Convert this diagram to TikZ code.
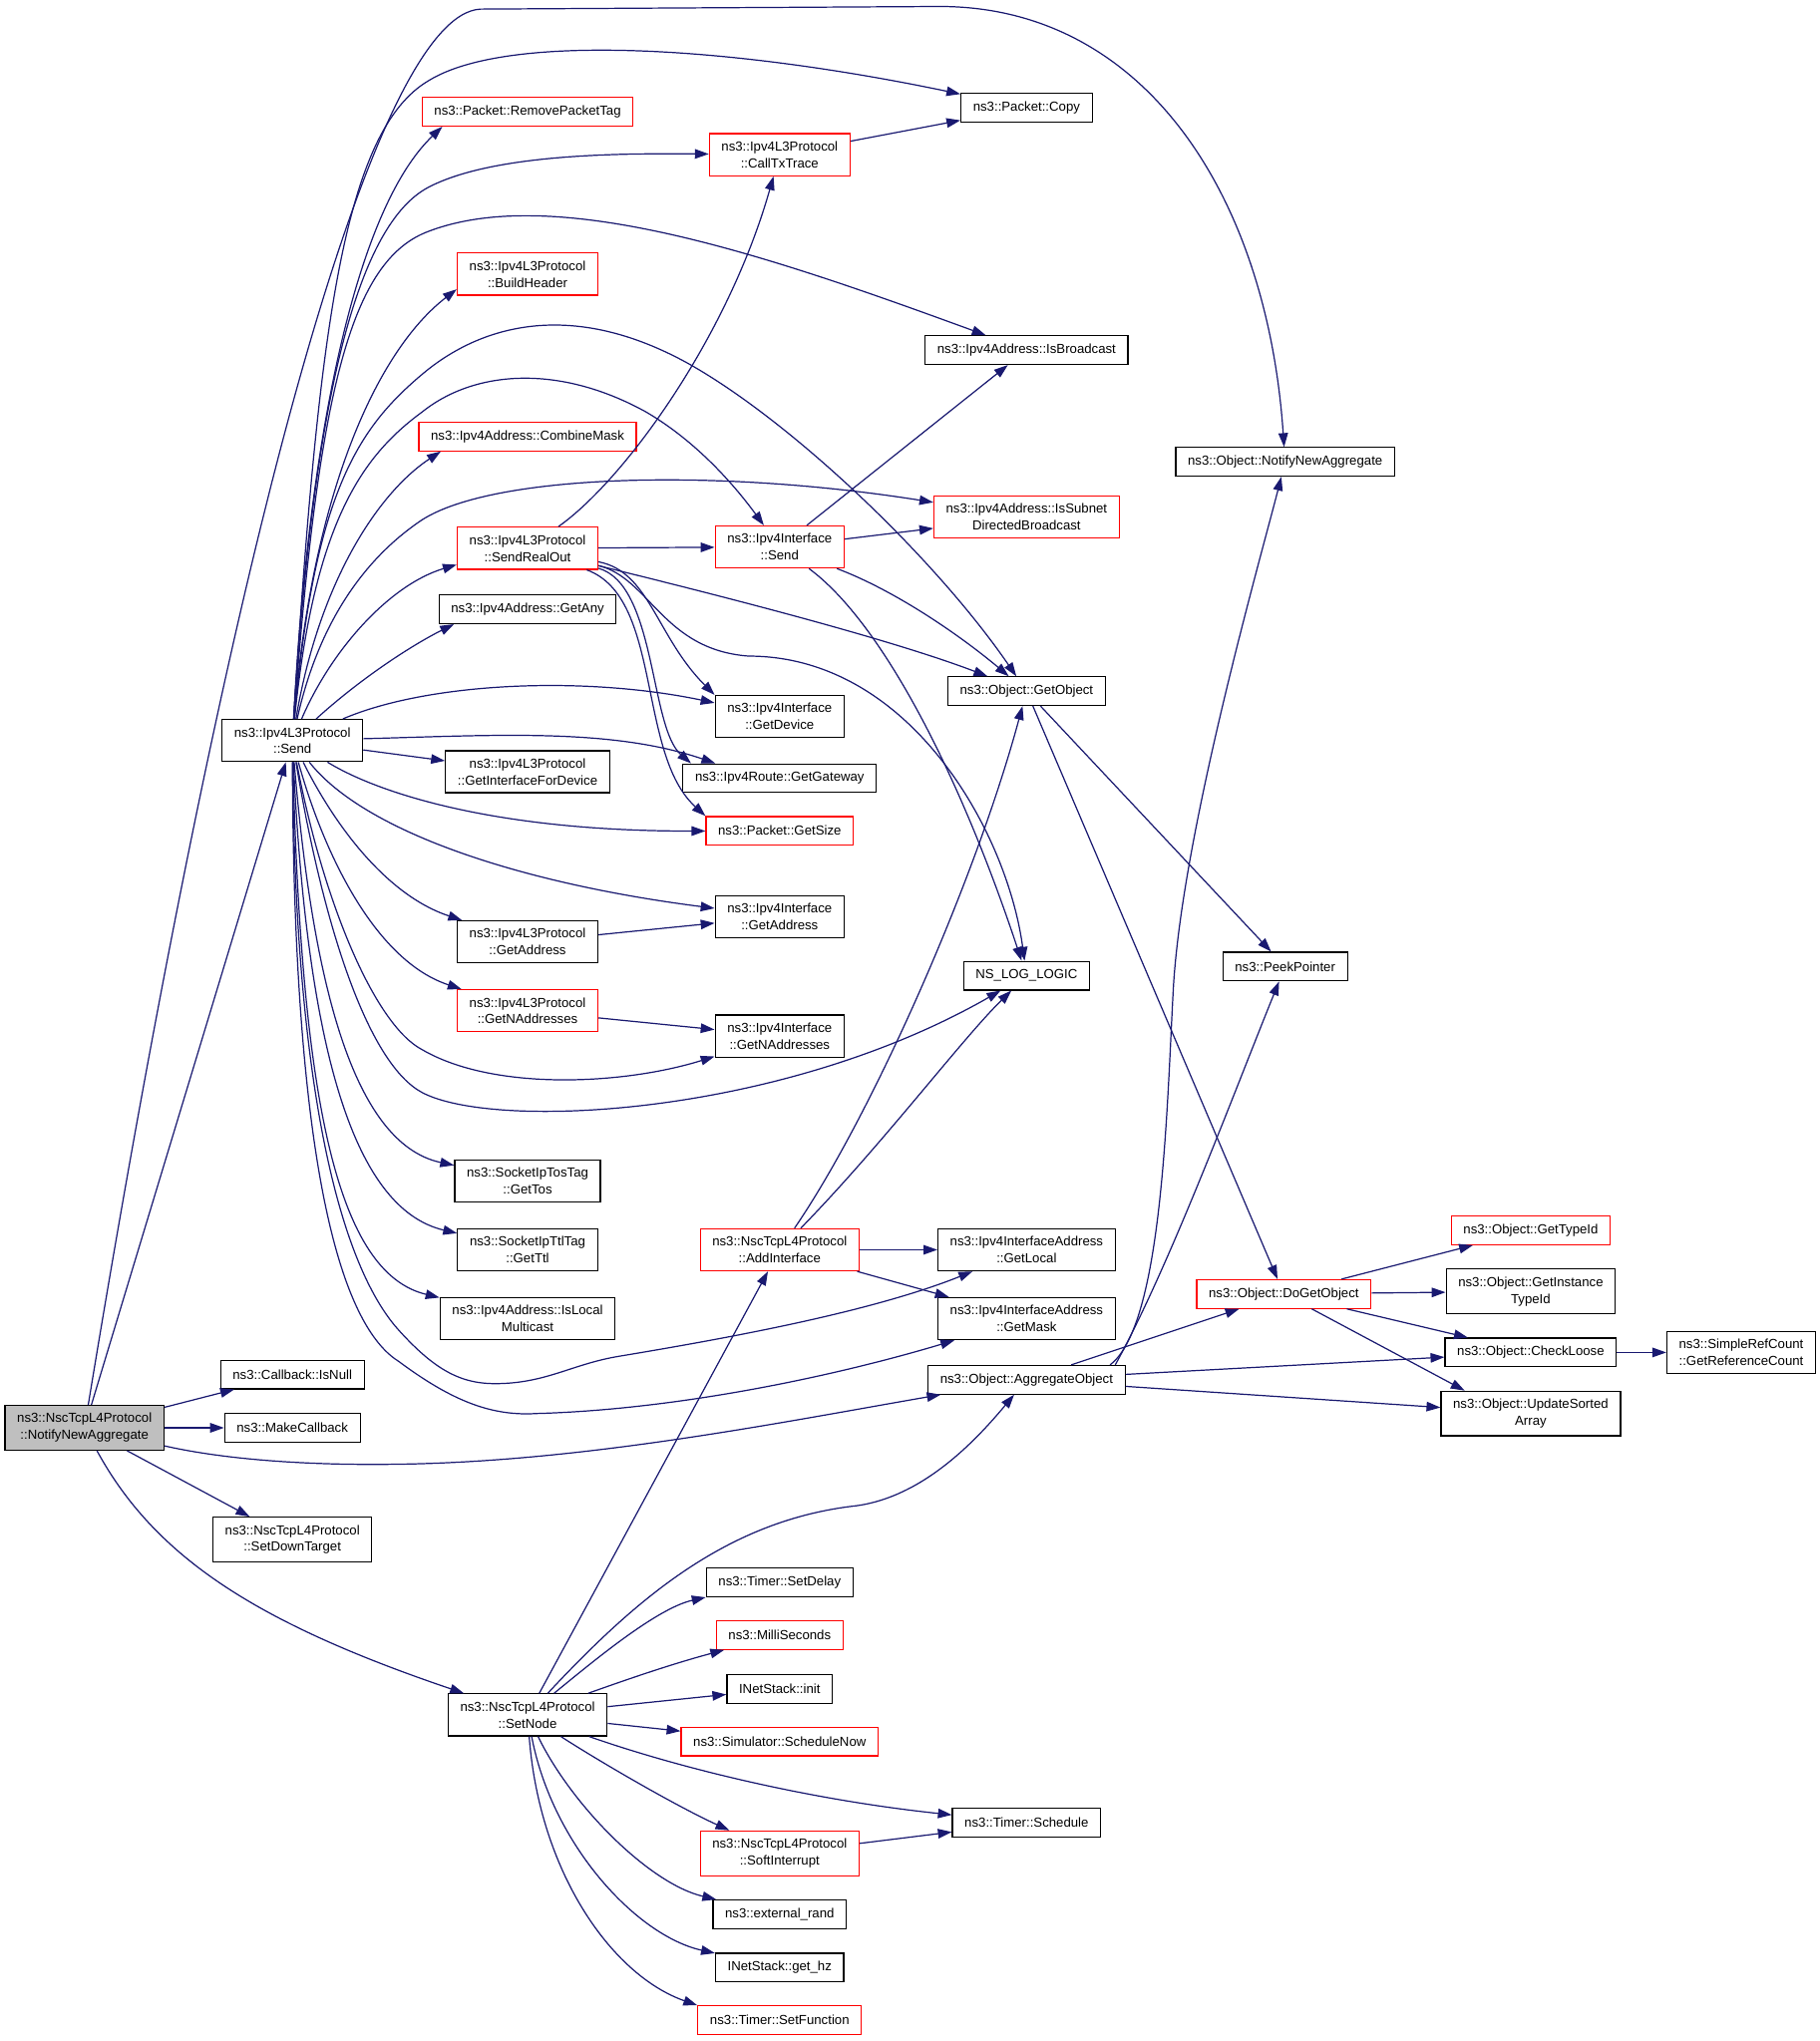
\documentclass[tikz,border=0pt]{standalone}
\usepackage{fontspec}
\setmainfont{Liberation Sans}
\usetikzlibrary{arrows.meta}
\definecolor{edgeblue}{HTML}{191970}
\tikzset{
  fn/.style={draw=black, line width=0.7pt, fill=white, align=center,
    inner xsep=7pt, inner ysep=4.5pt, minimum height=16.5pt,
    font=\fontsize{7.6}{9.7}\selectfont},
  fnred/.style={fn, draw=red},
  fnroot/.style={fn, fill=black!25},
  edge/.style={draw=edgeblue, line width=0.7pt, -{Triangle[length=8pt,width=5.5pt]}},
}
\begin{document}
\begin{tikzpicture}[x=0.75pt, y=-0.75pt]
    \useasboundingbox (0,0) rectangle (1400,1571);
    % callers on the left
    \node[fnroot] (N) at (65,1099) {ns3::NscTcpL4Protocol\\::NotifyNewAggregate};
    \node[fn] (S) at (225,570) {ns3::Ipv4L3Protocol\\::Send};
    \node[fn] (IsNull) at (225,1058) {ns3::Callback::IsNull};
    \node[fn] (MakeCb) at (225,1099) {ns3::MakeCallback};
    \node[fn] (SetDown) at (225,1185) {ns3::NscTcpL4Protocol\\::SetDownTarget};
    \node[fn] (SetNode) at (406,1320) {ns3::NscTcpL4Protocol\\::SetNode};
    % second column
    \node[fnred] (RPT) at (406,86) {ns3::Packet::RemovePacketTag};
    \node[fnred] (Build) at (406,211) {ns3::Ipv4L3Protocol\\::BuildHeader};
    \node[fnred] (Combine) at (406,336) {ns3::Ipv4Address::CombineMask};
    \node[fnred] (SendReal) at (406,422) {ns3::Ipv4L3Protocol\\::SendRealOut};
    \node[fn] (GetAny) at (406,469) {ns3::Ipv4Address::GetAny};
    \node[fn] (GetIfDev) at (406,594) {ns3::Ipv4L3Protocol\\::GetInterfaceForDevice};
    \node[fn] (L3GetAddr) at (406,725) {ns3::Ipv4L3Protocol\\::GetAddress};
    \node[fnred] (L3GetNAddr) at (406,778) {ns3::Ipv4L3Protocol\\::GetNAddresses};
    \node[fn] (GetTos) at (406,909) {ns3::SocketIpTosTag\\::GetTos};
    \node[fn] (GetTtl) at (406,962) {ns3::SocketIpTtlTag\\::GetTtl};
    \node[fn] (IsLocalMc) at (406,1015) {ns3::Ipv4Address::IsLocal\\Multicast};
    % third column
    \node[fnred] (CallTx) at (600,119) {ns3::Ipv4L3Protocol\\::CallTxTrace};
    \node[fnred] (IfSend) at (600,421) {ns3::Ipv4Interface\\::Send};
    \node[fn] (GetDev) at (600,551.5) {ns3::Ipv4Interface\\::GetDevice};
    \node[fn] (GetGw) at (600,599) {ns3::Ipv4Route::GetGateway};
    \node[fnred] (GetSize) at (600,639.5) {ns3::Packet::GetSize};
    \node[fn] (IfGetAddr) at (600,705.5) {ns3::Ipv4Interface\\::GetAddress};
    \node[fn] (IfGetNAddr) at (600,797.5) {ns3::Ipv4Interface\\::GetNAddresses};
    \node[fnred] (AddIf) at (600,962) {ns3::NscTcpL4Protocol\\::AddInterface};
    \node[fn] (SetDelay) at (600,1218) {ns3::Timer::SetDelay};
    \node[fnred] (Milli) at (600,1258.5) {ns3::MilliSeconds};
    \node[fn] (Init) at (600,1300) {INetStack::init};
    \node[fnred] (SchedNow) at (600,1340.5) {ns3::Simulator::ScheduleNow};
    \node[fnred] (SoftInt) at (600,1426.5) {ns3::NscTcpL4Protocol\\::SoftInterrupt};
    \node[fn] (ExtRand) at (600,1473.5) {ns3::external\_rand};
    \node[fn] (GetHz) at (600,1514.5) {INetStack::get\_hz};
    \node[fnred] (SetFunc) at (600,1555) {ns3::Timer::SetFunction};
    % fourth column
    \node[fn] (Copy) at (790,83) {ns3::Packet::Copy};
    \node[fn] (IsBc) at (790,269.5) {ns3::Ipv4Address::IsBroadcast};
    \node[fnred] (IsSubnet) at (790,398) {ns3::Ipv4Address::IsSubnet\\DirectedBroadcast};
    \node[fn] (GetObj) at (790,532) {ns3::Object::GetObject};
    \node[fn] (NSLOG) at (790,751) {NS\_LOG\_LOGIC};
    \node[fn] (GetLocal) at (790,962) {ns3::Ipv4InterfaceAddress\\::GetLocal};
    \node[fn] (GetMask) at (790,1015) {ns3::Ipv4InterfaceAddress\\::GetMask};
    \node[fn] (Aggregate) at (790,1062) {ns3::Object::AggregateObject};
    \node[fn] (Schedule) at (790,1403) {ns3::Timer::Schedule};
    % right columns
    \node[fn] (ObjNotify) at (989,355.5) {ns3::Object::NotifyNewAggregate};
    \node[fn] (Peek) at (989,744) {ns3::PeekPointer};
    \node[fnred] (DoGetObj) at (988,996) {ns3::Object::DoGetObject};
    \node[fnred] (GetTypeId) at (1178,947) {ns3::Object::GetTypeId};
    \node[fn] (GetInstTid) at (1178,994) {ns3::Object::GetInstance\\TypeId};
    \node[fn] (CheckLoose) at (1178,1041) {ns3::Object::CheckLoose};
    \node[fn] (UpdSorted) at (1178,1088) {ns3::Object::UpdateSorted\\Array};
    \node[fn] (GetRefCnt) at (1340,1041) {ns3::SimpleRefCount\\::GetReferenceCount};

    % calls of the root
    \draw[edge] (N) .. controls (180,400) and (290,10) .. (370,7) -- (720,5) .. controls (880,3) and (975,150) .. (ObjNotify);
    \draw[edge] (N) -- (S);
    \draw[edge] (N) -- (IsNull);
    \draw[edge] (N) -- (MakeCb);
    \draw[edge] (N) .. controls (180,1125) and (250,1128) .. (307,1127) .. controls (450,1125) and (600,1095) .. (Aggregate);
    \draw[edge] (N) -- (SetDown);
    \draw[edge] (N) .. controls (120,1200) and (200,1250) .. (SetNode);

    % calls of Send
    \draw[edge] (S) .. controls (245,250) and (265,100) .. (330,62) .. controls (390,25) and (560,35) .. (Copy);
    \draw[edge] (S) .. controls (238,330) and (275,160) .. ([xshift=12pt]RPT.south west);
    \draw[edge] (S) .. controls (240,330) and (270,175) .. (330,144) .. controls (380,118) and (480,118) .. (CallTx);
    \draw[edge] (S) .. controls (245,300) and (270,200) .. (330,178) .. controls (430,140) and (600,200) .. (IsBc);
    \draw[edge] (S) .. controls (240,380) and (290,270) .. ([yshift=3.75pt]Build.south west);
    \draw[edge] (S) .. controls (242,380) and (275,330) .. (325,288) .. controls (370,250) and (440,230) .. (530,280) .. controls (610,325) and (720,430) .. (GetObj);
    \draw[edge] (S) .. controls (242,400) and (280,350) .. (325,317) .. controls (365,285) and (430,280) .. (497,317) .. controls (540,342) and (570,380) .. (IfSend);
    \draw[edge] (S) .. controls (245,450) and (290,380) .. ([xshift=13pt]Combine.south west);
    \draw[edge] (S) .. controls (245,480) and (280,430) .. (325,400) .. controls (380,365) and (550,360) .. (IsSubnet);
    \draw[edge] (S) .. controls (255,500) and (300,450) .. ([yshift=3pt]SendReal.south west);
    \draw[edge] (S) .. controls (280,520) and (320,495) .. ([xshift=9pt]GetAny.south west);
    \draw[edge] (S) .. controls (330,525) and (450,520) .. (GetDev);
    \draw[edge] (S) .. controls (380,566) and (470,560) .. ([xshift=19pt]GetGw.north west);
    \draw[edge] (S) -- (GetIfDev);
    \draw[edge] (S) .. controls (290,610) and (380,640) .. (GetSize);
    \draw[edge] (S) .. controls (280,640) and (400,680) .. (IfGetAddr);
    \draw[edge] (S) .. controls (260,640) and (300,690) .. (L3GetAddr);
    \draw[edge] (S) .. controls (250,660) and (290,740) .. (L3GetNAddr);
    \draw[edge] (S) .. controls (250,700) and (290,790) .. (325,808) .. controls (380,840) and (480,835) .. (IfGetNAddr);
    \draw[edge] (S) .. controls (250,720) and (285,820) .. (325,841) .. controls (380,870) and (600,860) .. (NSLOG);
    \draw[edge] (S) .. controls (240,750) and (270,880) .. (GetTos);
    \draw[edge] (S) .. controls (236,800) and (270,930) .. (GetTtl);
    \draw[edge] (S) .. controls (232,850) and (260,980) .. (IsLocalMc);
    \draw[edge] (S) .. controls (228,900) and (279,993) .. (307,1024) .. controls (335,1055) and (355,1065) .. (381,1065) .. controls (420,1065) and (440,1050) .. (476,1044) .. controls (560,1030) and (670,1010) .. (GetLocal);
    \draw[edge] (S) .. controls (226,930) and (270,1025) .. (307,1048) .. controls (350,1080) and (380,1090) .. (413,1088) .. controls (520,1085) and (640,1060) .. (GetMask);

    % inner calls
    \draw[edge] (CallTx) -- (Copy);
    \draw[edge] (SendReal) .. controls (480,370) and (560,260) .. (CallTx);
    \draw[edge] (SendReal) -- (IfSend);
    \draw[edge] (SendReal) .. controls (540,455) and (680,490) .. (GetObj);
    \draw[edge] (SendReal) .. controls (500,445) and (510,500) .. (576,505) .. controls (700,505) and (775,640) .. (NSLOG);
    \draw[edge] (SendReal) .. controls (500,440) and (505,490) .. (GetDev.north west);
    \draw[edge] (SendReal) .. controls (505,450) and (500,560) .. ([xshift=5pt]GetGw.north west);
    \draw[edge] (SendReal) .. controls (510,460) and (490,580) .. (GetSize.north west);
    \draw[edge] (IfSend) -- (IsBc);
    \draw[edge] (IfSend) -- (IsSubnet);
    \draw[edge] (IfSend) .. controls (690,455) and (740,490) .. (GetObj);
    \draw[edge] (IfSend) .. controls (680,480) and (740,600) .. (NSLOG);
    \draw[edge] (GetObj) -- (Peek);
    \draw[edge] (GetObj) -- (DoGetObj);
    \draw[edge] (L3GetAddr) -- (IfGetAddr);
    \draw[edge] (L3GetNAddr) -- (IfGetNAddr);
    \draw[edge] (AddIf) .. controls (670,860) and (750,680) .. (GetObj);
    \draw[edge] (AddIf) .. controls (680,880) and (740,800) .. (NSLOG);
    \draw[edge] (AddIf) -- (GetLocal);
    \draw[edge] (AddIf) -- (GetMask);
    \draw[edge] (DoGetObj) -- (GetTypeId);
    \draw[edge] (DoGetObj) -- (GetInstTid);
    \draw[edge] (DoGetObj) -- (CheckLoose);
    \draw[edge] (DoGetObj) -- ([xshift=14pt]UpdSorted.north west);
    \draw[edge] (CheckLoose) -- (GetRefCnt);
    \draw[edge] ([xshift=-9pt]Aggregate.north east) .. controls (895,1020) and (898,850) .. (903,760) .. controls (910,640) and (970,430) .. (ObjNotify);
    \draw[edge] ([xshift=-6pt]Aggregate.north east) .. controls (900,975) and (950,840) .. (Peek);
    \draw[edge] (Aggregate) -- (DoGetObj);
    \draw[edge] (Aggregate) -- (CheckLoose);
    \draw[edge] (Aggregate) -- (UpdSorted);

    % calls of SetNode
    \draw[edge] (SetNode) -- (AddIf);
    \draw[edge] (SetNode) .. controls (490,1230) and (560,1170) .. (659,1159) .. controls (710,1152) and (750,1110) .. (Aggregate);
    \draw[edge] (SetNode) .. controls (455,1280) and (505,1238) .. (SetDelay.south west);
    \draw[edge] (SetNode) .. controls (490,1290) and (520,1280) .. (Milli);
    \draw[edge] (SetNode) -- (Init);
    \draw[edge] (SetNode) -- (SchedNow);
    \draw[edge] (SetNode) .. controls (520,1360) and (620,1385) .. (Schedule);
    \draw[edge] (SetNode) .. controls (460,1355) and (520,1390) .. (SoftInt);
    \draw[edge] (SetNode) .. controls (440,1390) and (500,1450) .. (ExtRand);
    \draw[edge] (SetNode) .. controls (425,1420) and (490,1490) .. (GetHz);
    \draw[edge] (SetNode) .. controls (415,1440) and (470,1520) .. (SetFunc.north west);
    \draw[edge] (SoftInt) -- (Schedule);
\end{tikzpicture}
\end{document}
